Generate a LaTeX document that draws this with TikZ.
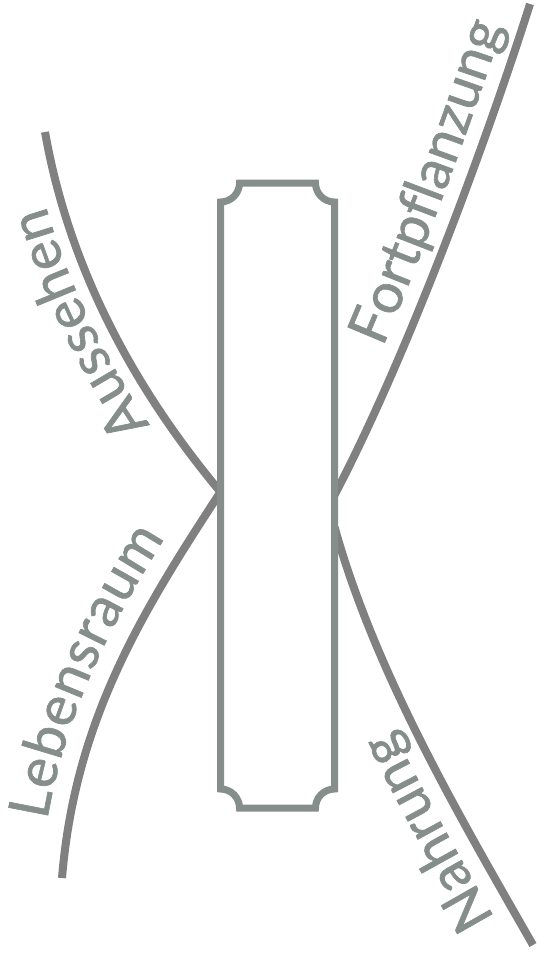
\documentclass[tikz,border=0pt]{standalone}
\usepackage{fontspec}
\setmainfont{Lato}
\newfontfamily\lblfont{Lato}[FakeBold=1.2]
\usetikzlibrary{decorations.text}
\definecolor{bandgray}{HTML}{808080}
\definecolor{framegray}{HTML}{868E8C}
\newcommand\lbl{\lblfont\fontsize{56}{56}\selectfont}
\tikzset{
  band/.style={draw=bandgray, line width=8pt},
  frame/.style={draw=framegray, line width=7pt, fill=white},
  label on/.style n args={3}{postaction={decorate, decoration={text along path,
      text={|\lbl|#1}, text color=framegray, raise=#3,
      text align={left indent=#2}}}}
}
\begin{document}
\begin{tikzpicture}[x=1pt, y=-1pt]
    \useasboundingbox (0,0) rectangle (537,956);

    % ends of the four bands
    \coordinate (lmeet) at (220.5,492);
    \coordinate (rtop) at (334.5,495);
    \coordinate (rbot) at (334.5,527);
    \coordinate (aus) at (45,132);
    \coordinate (leb) at (62,878);
    \coordinate (fort) at (530,4);
    \coordinate (nahr) at (533,945);

    \draw[band, label on={Aussehen}{95pt}{16pt}] (lmeet) .. controls (148,405) and (72,285) .. (aus);
    \draw[band, label on={Lebensraum}{54pt}{22pt}] (leb) .. controls (75,720) and (142,612) .. (lmeet);
    \draw[band, label on={Fortpflanzung}{155pt}{19pt}] (rtop) .. controls (405,361) and (485,146) .. (fort);
    \draw[band, label on={Nahrung}{42pt}{20pt}] (nahr) .. controls (458,814) and (375,672) .. (rbot);

    % the plate
    \draw[frame] (239.5,183) -- (315.5,183)
        arc[start angle=180, end angle=90, radius=19] -- (334.5,789)
        arc[start angle=-90, end angle=-180, radius=19] -- (239.5,808)
        arc[start angle=0, end angle=-90, radius=19] -- (220.5,202)
        arc[start angle=90, end angle=0, radius=19] -- cycle;
\end{tikzpicture}
\end{document}
